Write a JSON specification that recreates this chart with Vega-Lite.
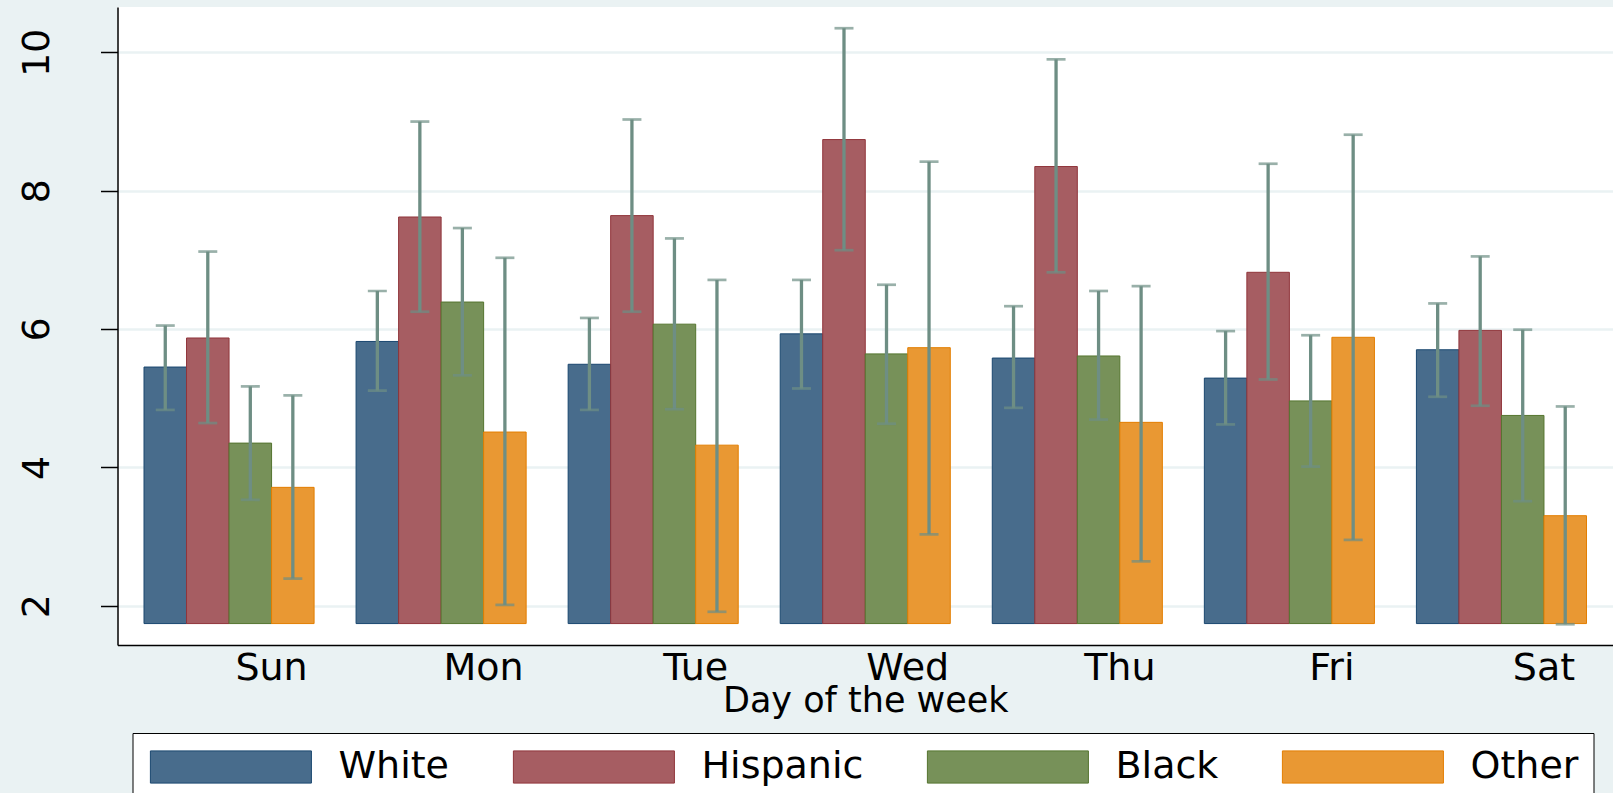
{
  "$schema": "https://vega.github.io/schema/vega-lite/v6.json",
  "autosize": {"type": "none"},
  "padding": {"left": 117.5, "top": 7, "right": 0, "bottom": 148},
  "width": 1495.5,
  "height": 638,
  "background": "#EAF2F3",
  "config": {"view": {"fill": "white", "stroke": null}, "font": "DejaVu Sans"},
  "data": {"values": [
    {"day": "Sun", "race": "White", "mean": 5.45, "lo": 4.83, "hi": 6.05},
    {"day": "Sun", "race": "Hispanic", "mean": 5.87, "lo": 4.64, "hi": 7.12},
    {"day": "Sun", "race": "Black", "mean": 4.35, "lo": 3.53, "hi": 5.17},
    {"day": "Sun", "race": "Other", "mean": 3.71, "lo": 2.39, "hi": 5.04},
    {"day": "Mon", "race": "White", "mean": 5.82, "lo": 5.11, "hi": 6.55},
    {"day": "Mon", "race": "Hispanic", "mean": 7.62, "lo": 6.25, "hi": 9.0},
    {"day": "Mon", "race": "Black", "mean": 6.39, "lo": 5.33, "hi": 7.46},
    {"day": "Mon", "race": "Other", "mean": 4.51, "lo": 2.01, "hi": 7.03},
    {"day": "Tue", "race": "White", "mean": 5.49, "lo": 4.83, "hi": 6.16},
    {"day": "Tue", "race": "Hispanic", "mean": 7.64, "lo": 6.25, "hi": 9.03},
    {"day": "Tue", "race": "Black", "mean": 6.07, "lo": 4.84, "hi": 7.31},
    {"day": "Tue", "race": "Other", "mean": 4.32, "lo": 1.91, "hi": 6.71},
    {"day": "Wed", "race": "White", "mean": 5.93, "lo": 5.14, "hi": 6.71},
    {"day": "Wed", "race": "Hispanic", "mean": 8.74, "lo": 7.14, "hi": 10.35},
    {"day": "Wed", "race": "Black", "mean": 5.64, "lo": 4.63, "hi": 6.64},
    {"day": "Wed", "race": "Other", "mean": 5.73, "lo": 3.03, "hi": 8.42},
    {"day": "Thu", "race": "White", "mean": 5.58, "lo": 4.86, "hi": 6.33},
    {"day": "Thu", "race": "Hispanic", "mean": 8.35, "lo": 6.82, "hi": 9.9},
    {"day": "Thu", "race": "Black", "mean": 5.61, "lo": 4.69, "hi": 6.55},
    {"day": "Thu", "race": "Other", "mean": 4.65, "lo": 2.64, "hi": 6.62},
    {"day": "Fri", "race": "White", "mean": 5.29, "lo": 4.62, "hi": 5.97},
    {"day": "Fri", "race": "Hispanic", "mean": 6.82, "lo": 5.27, "hi": 8.39},
    {"day": "Fri", "race": "Black", "mean": 4.96, "lo": 4.01, "hi": 5.91},
    {"day": "Fri", "race": "Other", "mean": 5.88, "lo": 2.95, "hi": 8.81},
    {"day": "Sat", "race": "White", "mean": 5.7, "lo": 5.02, "hi": 6.37},
    {"day": "Sat", "race": "Hispanic", "mean": 5.98, "lo": 4.89, "hi": 7.05},
    {"day": "Sat", "race": "Black", "mean": 4.75, "lo": 3.51, "hi": 5.99},
    {"day": "Sat", "race": "Other", "mean": 3.3, "lo": 1.73, "hi": 4.88}
  ]},
  "encoding": {
    "x": {
      "field": "day", "type": "nominal",
      "scale": {"domain": ["Sun", "Mon", "Tue", "Wed", "Thu", "Fri", "Sat"], "paddingInner": 0.198, "paddingOuter": 0.125},
      "axis": {
        "title": "Day of the week", "labelAngle": 0, "ticks": false, "tickSize": 0, "grid": false,
        "domainColor": "black", "domainWidth": 1.5,
        "labelPadding": 34, "labelBaseline": "alphabetic", "labelOffset": 42.5,
        "labelFont": "DejaVu Sans", "labelFontSize": 38, "labelColor": "black",
        "titleFont": "DejaVu Sans", "titleFontSize": 35, "titleFontWeight": "normal", "titleColor": "black",
        "titleBaseline": "alphabetic", "titleY": 66
      }
    },
    "xOffset": {
      "field": "race", "type": "nominal",
      "scale": {"domain": ["White", "Hispanic", "Black", "Other"], "paddingInner": 0, "paddingOuter": 0}
    }
  },
  "layer": [
    {
      "mark": {"type": "bar", "strokeWidth": 1},
      "encoding": {
        "y": {
          "field": "mean", "type": "quantitative",
          "scale": {"domain": [1.43, 10.657], "nice": false, "zero": false},
          "axis": {
            "values": [2, 4, 6, 8, 10], "format": "d", "title": null,
            "grid": true, "gridColor": "#EAF2F3", "gridWidth": 2.5,
            "domainColor": "black", "domainWidth": 1.5,
            "tickColor": "black", "tickSize": 17, "tickWidth": 1.5,
            "labelAngle": -90, "labelAlign": "center", "labelBaseline": "alphabetic", "labelPadding": 52,
            "labelFont": "DejaVu Sans", "labelFontSize": 38, "labelColor": "black"
          }
        },
        "y2": {"datum": 1.74},
        "fill": {
          "field": "race", "type": "nominal",
          "scale": {"domain": ["White", "Hispanic", "Black", "Other"], "range": ["#486C8C", "#A65D62", "#779159", "#E99833"]},
          "legend": {
            "orient": "none", "legendX": 15, "legendY": 726, "direction": "horizontal", "title": null,
            "symbolType": "M-1,-1H9V1H-1Z", "symbolSize": 1037, "symbolStrokeWidth": 1, "symbolOpacity": 1,
            "labelOffset": 153, "columnPadding": 61, "padding": 15,
            "fillColor": "white", "strokeColor": "black",
            "labelFont": "DejaVu Sans", "labelFontSize": 38, "labelColor": "black", "labelLimit": 400
          }
        },
        "stroke": {
          "field": "race", "type": "nominal",
          "scale": {"domain": ["White", "Hispanic", "Black", "Other"], "range": ["#1A476F", "#90353B", "#55752F", "#E37E00"]},
          "legend": {
            "orient": "none", "legendX": 15, "legendY": 726, "direction": "horizontal", "title": null,
            "symbolType": "M-1,-1H9V1H-1Z", "symbolSize": 1037, "symbolStrokeWidth": 1, "symbolOpacity": 1,
            "labelOffset": 153, "columnPadding": 61, "padding": 15,
            "fillColor": "white", "strokeColor": "black",
            "labelFont": "DejaVu Sans", "labelFontSize": 38, "labelColor": "black", "labelLimit": 400
          }
        }
      }
    },
    {
      "mark": {"type": "rule", "color": "#6E8E84", "strokeWidth": 3.3},
      "encoding": {
        "y": {"field": "lo", "type": "quantitative"},
        "y2": {"field": "hi"}
      }
    },
    {
      "mark": {"type": "tick", "color": "#6E8E84", "size": 19, "thickness": 2.7, "orient": "horizontal"},
      "encoding": {"y": {"field": "lo", "type": "quantitative"}}
    },
    {
      "mark": {"type": "tick", "color": "#6E8E84", "size": 19, "thickness": 2.7, "orient": "horizontal"},
      "encoding": {"y": {"field": "hi", "type": "quantitative"}}
    }
  ]
}
